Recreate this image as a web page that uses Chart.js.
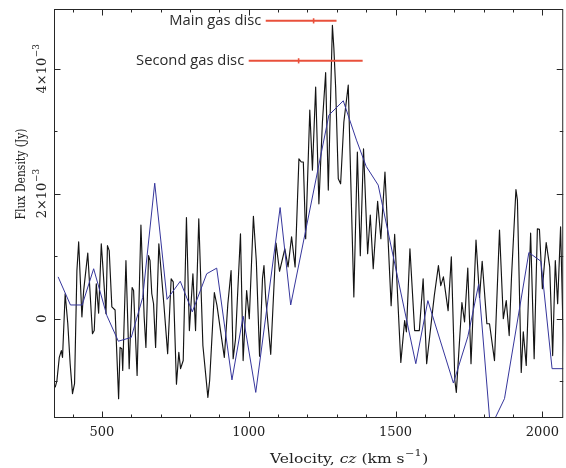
<!DOCTYPE html>
<html><head><meta charset="utf-8">
<script src="https://cdn.jsdelivr.net/npm/chart.js@4.4.1/dist/chart.umd.min.js"></script>
<style>html,body{margin:0;padding:0;background:#fff;}canvas{display:block;}</style>
</head><body>
<canvas id="c" width="566" height="468" style="width:566px;height:468px"></canvas>
<script>
// ---- Data (velocity in km/s, flux density in units of 10^-3 Jy) ----
const blackVel = [
 341,347,355,362,366,375,384,392,400,407,
 415,421,432,438,452,468,474,481,489,498,
 502,514,519,525,534,545,557,562,568,571,
 582,593,603,608,620,633,644,650,659,664,
 670,676,683,694,711,724,736,743,754,762,
 768,777,788,798,810,819,830,844,861,867,
 883,892,904,917,929,940,947,955,972,981,
 993,1002,1016,1026,1037,1047,1052,1058,1075,1093,
 1105,1123,1134,1146,1158,1171,1179,1186,1194,1208,
 1217,1228,1239,1251,1262,1271,1285,1290,1296,1305,
 1313,1324,1339,1358,1370,1380,1391,1405,1414,1424,
 1439,1450,1464,1485,1497,1518,1531,1537,1549,1565,
 1581,1594,1606,1612,1632,1646,1654,1663,1679,1690,
 1702,1707,1726,1735,1746,1757,1774,1786,1795,1811,
 1820,1837,1854,1867,1877,1887,1895,1910,1915,1928,
 1935,1945,1960,1972,1983,1990,2000,2013,2025,2035,
 2044,2052,2062,2069,2078];
const blackFlux = [
 -1.10,-0.99,-0.62,-0.51,-0.62,0.40,-0.08,-0.72,-1.20,-1.04,
 0.77,1.23,0.03,0.45,1.05,-0.24,-0.19,0.56,0.09,1.20,
 0.93,0.08,1.17,1.09,0.19,0.14,-1.28,-0.46,-0.48,-0.83,
 0.93,-0.80,0.50,0.45,-0.91,1.50,0.03,-0.46,1.01,0.93,
 0.40,0.24,-0.46,1.20,0.24,-0.56,0.64,0.59,-1.05,-0.54,
 -0.80,-0.67,1.62,-0.19,0.72,-0.19,1.60,-0.43,-1.26,-0.99,
 0.42,0.21,-0.19,-0.62,0.24,0.77,-0.64,-0.33,1.36,-0.67,
 0.45,0.00,1.64,0.92,-0.60,0.65,0.85,0.32,-0.57,1.21,
 0.76,1.12,0.83,1.31,0.83,2.56,2.51,2.51,1.28,3.34,
 2.38,3.71,1.84,3.15,3.94,2.06,4.70,4.33,3.71,2.24,
 2.16,3.15,3.74,0.35,2.67,1.01,2.72,1.04,1.66,0.80,
 1.88,1.28,2.35,0.21,1.35,-0.70,-0.03,-0.21,1.12,-0.19,
 -0.19,0.64,-0.72,-0.46,0.37,0.85,0.53,0.67,0.13,0.99,
 -0.99,-1.18,0.26,-0.05,0.81,-0.72,1.26,0.34,0.92,-0.08,
 -0.08,-0.67,1.42,0.00,0.29,-0.27,0.68,2.07,1.90,-0.86,
 -0.21,-0.75,1.37,-0.64,1.44,1.43,0.48,1.22,0.83,-0.59,
 0.93,0.24,1.47,0.08,-1.04];

const blueVel = [351,393,433,472,517,556,600,639,680,722,767,808,857,891,943,981,1024,1107,1143,1273,1322,1367,1400,1441,1569,1610,1697,1746,1783,1823,1871,1954,1995,2033,2078];
const blueFlux = [0.67,0.22,0.22,0.80,0.05,-0.36,-0.30,0.34,2.17,0.31,0.60,0.11,0.72,0.81,-0.98,0.04,-1.18,1.78,0.22,3.26,3.49,2.86,2.44,2.14,-0.72,0.29,-1.03,-0.29,0.55,-1.75,-1.28,1.06,0.92,-0.80,-0.80];

const discLabels = ['Main gas disc', 'Second gas disc'];
const discCentre = [1221, 1170];
const discLow = [1058, 1000];
const discHigh = [1299, 1388];
const discLevel = [4.77, 4.13];

const xTickValues = [500, 1000, 1500, 2000];
const xMinorTicks = [400,500,600,700,800,900,1000,1100,1200,1300,1400,1500,1600,1700,1800,1900,2000];
const yTickValues = [0, 2, 4];
const yTickLabels = ['0', '2×10^−3', '4×10^−3'];
const yMinorTicks = [-1, 0, 1, 2, 3, 4];
const xTitleParts = [['Velocity, ','n'],['cz','i'],[' (km s','n'],['−1','s'],[')','n']];
const yTitle = 'Flux Density (Jy)';

// ---- Build datasets ----
const toPts = (xs, ys) => xs.map((v, i) => ({x: v, y: ys[i]}));
const RED = '#e9503b';
const datasets = [
  {data: toPts(blackVel, blackFlux), borderColor: '#141414', borderWidth: 1.15, pointRadius: 0, borderJoinStyle: 'round', order: 2},
  {data: toPts(blueVel, blueFlux), borderColor: '#36369c', borderWidth: 1, pointRadius: 0, borderJoinStyle: 'round', order: 1}
];
discLabels.forEach((lab, i) => {
  datasets.push({
    data: [{x: discLow[i], y: discLevel[i]}, {x: discCentre[i], y: discLevel[i]}, {x: discHigh[i], y: discLevel[i]}],
    borderColor: RED, borderWidth: 2, pointRadius: [0, 2.6, 0], pointStyle: 'line', rotation: 90,
    pointBorderColor: RED, pointBorderWidth: 1.6, order: 0, clip: false
  });
});

const SERIF = '"DejaVu Serif", serif';
const SERIF_C = '"DejaVu Serif Condensed", "DejaVu Serif", serif';
function fitText(ctx, text, width) { return width / ctx.measureText(text).width; }

const deco = {
  id: 'deco',
  afterDraw(chart) {
    const {ctx, chartArea: a, scales: {x, y}} = chart;
    ctx.save();
    ctx.strokeStyle = '#262626';
    ctx.lineWidth = 1;
    ctx.strokeRect(a.left + 0.5, a.top + 0.5, a.right - a.left - 1, a.bottom - a.top - 1);
    ctx.beginPath();
    xMinorTicks.forEach(v => {
      const len = (v % 500 === 0) ? 6.5 : 3.5;
      const px = Math.round(x.getPixelForValue(v)) + 0.5;
      ctx.moveTo(px, a.bottom); ctx.lineTo(px, a.bottom - len);
      ctx.moveTo(px, a.top); ctx.lineTo(px, a.top + len);
    });
    yMinorTicks.forEach(v => {
      const len = (v % 2 === 0) ? 6.5 : 3.5;
      const py = Math.round(y.getPixelForValue(v)) + 0.5;
      ctx.moveTo(a.left, py); ctx.lineTo(a.left + len, py);
      ctx.moveTo(a.right, py); ctx.lineTo(a.right - len, py);
    });
    ctx.stroke();

    ctx.fillStyle = '#222';
    ctx.textBaseline = 'middle';
    yTickValues.forEach((v, i) => {
      const [base, exp] = yTickLabels[i].split('^');
      const py = y.getPixelForValue(v);
      ctx.save();
      ctx.translate(43, py);
      ctx.rotate(-Math.PI / 2);
      ctx.font = '13px ' + SERIF;
      const wb = ctx.measureText(base).width;
      let we = 0;
      if (exp) { ctx.font = '9px ' + SERIF; we = ctx.measureText(exp).width; }
      const x0 = -(wb + we) / 2;
      ctx.textAlign = 'left';
      ctx.font = '13px ' + SERIF;
      ctx.fillText(base, x0, 0);
      if (exp) { ctx.font = '9px ' + SERIF; ctx.fillText(exp, x0 + wb + 0.5, -6); }
      ctx.restore();
    });

    ctx.save();
    ctx.translate(21.5, 174);
    ctx.rotate(-Math.PI / 2);
    ctx.font = '12.5px ' + SERIF_C;
    const sy = fitText(ctx, yTitle, 91);
    ctx.scale(sy, 1);
    ctx.textAlign = 'center';
    ctx.fillText(yTitle, 0, 0);
    ctx.restore();

    ctx.save();
    const fonts = {n: '12.5px ' + SERIF, i: 'italic 12.5px ' + SERIF, s: '9px ' + SERIF};
    let total = 0;
    const widths = xTitleParts.map(([t, s]) => { ctx.font = fonts[s]; const w = ctx.measureText(t).width; total += w; return w; });
    const sx = 157 / total;
    ctx.translate(348.5 - 157 / 2, 460);
    ctx.scale(sx, 1);
    ctx.textAlign = 'left';
    let cx = 0;
    xTitleParts.forEach(([t, s], i) => {
      ctx.font = fonts[s];
      ctx.fillText(t, cx + (s === 's' ? 0.5 : 0), s === 's' ? -6 : 0);
      cx += widths[i] + (s === 's' ? 1 : 0);
    });
    ctx.restore();

    ctx.save();
    ctx.fillStyle = '#2a2a2a';
    ctx.font = '15px "Open Sans", "Noto Sans", sans-serif';
    const sl = fitText(ctx, discLabels[0], 92);
    ctx.textAlign = 'right';
    discLabels.forEach((lab, i) => {
      const px = x.getPixelForValue(discLow[i]) - 4.5;
      const py = y.getPixelForValue(discLevel[i]);
      ctx.save();
      ctx.translate(px, py);
      ctx.scale(sl, 1);
      ctx.fillText(lab, 0, 0);
      ctx.restore();
    });
    ctx.restore();
    ctx.restore();
  }
};

new Chart(document.getElementById('c'), {
  type: 'line',
  data: {datasets},
  options: {
    responsive: false, animation: false, devicePixelRatio: 1,
    layout: {padding: {top: 9, right: 2, left: 0, bottom: 0}},
    plugins: {legend: {display: false}, tooltip: {enabled: false}},
    elements: {line: {tension: 0, fill: false}},
    scales: {
      x: {
        type: 'linear', min: 337, max: 2071,
        grid: {display: false, drawTicks: false}, border: {display: false},
        afterBuildTicks: s => { s.ticks = xTickValues.map(v => ({value: v})); },
        ticks: {font: {family: 'DejaVu Serif', size: 13}, color: '#222', padding: 7, maxRotation: 0, autoSkip: false, callback: v => String(v)},
        afterFit: s => { s.height = 50; }
      },
      y: {
        type: 'linear', min: -1.59, max: 4.96,
        grid: {display: false, drawTicks: false}, border: {display: false},
        ticks: {display: false},
        afterFit: s => { s.width = 54; }
      }
    }
  },
  plugins: [deco]
});
</script>
</body></html>
